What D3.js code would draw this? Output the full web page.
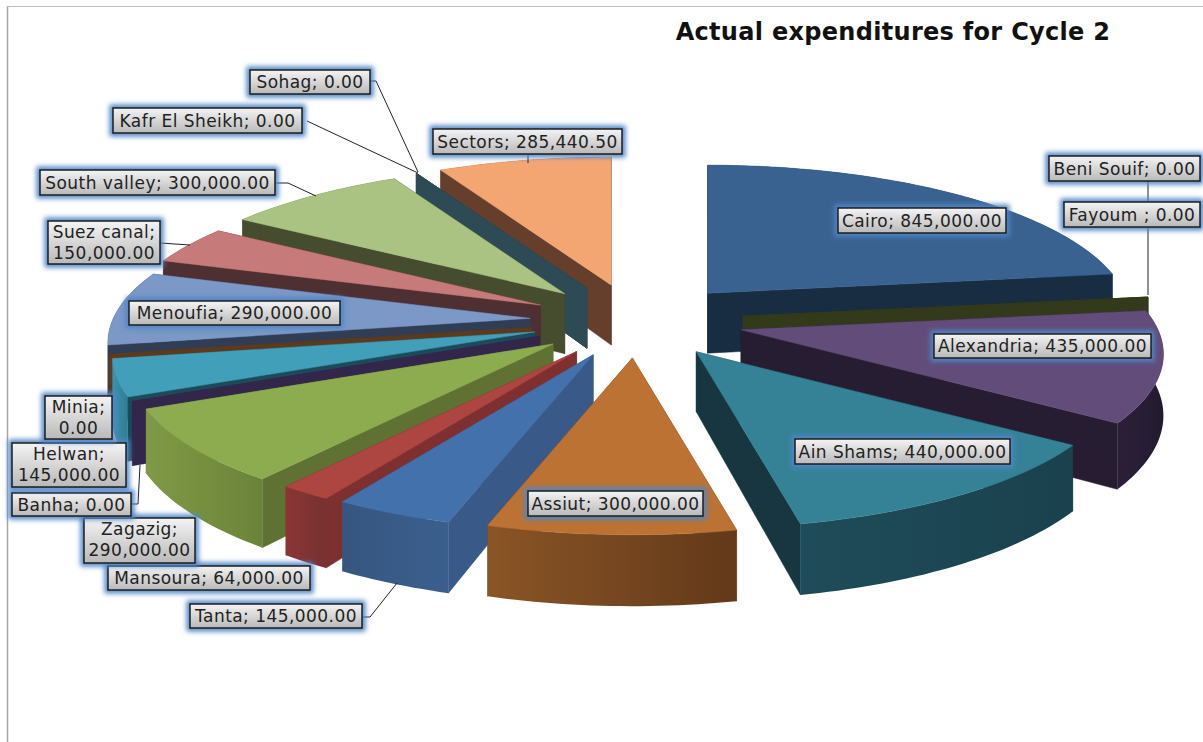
<!DOCTYPE html>
<html><head><meta charset="utf-8">
<script src="https://cdn.jsdelivr.net/npm/d3@7/dist/d3.min.js"></script>
<style>html,body{margin:0;padding:0;background:#fff}svg{display:block}text{white-space:pre}</style>
</head><body><svg id="c" width="1203" height="742"></svg>
<script>
const categories = ["Cairo","Beni Souif","Fayoum ","Alexandria","Ain Shams","Assiut","Tanta","Mansoura","Zagazig","Banha","Helwan","Minia","Menoufia","Suez canal","South valley","Kafr El Sheikh","Sohag","Sectors"];
const values = [845000,0,0,435000,440000,300000,145000,64000,290000,0,145000,0,290000,150000,300000,0,0,285440.5];

const topColors  = ["#3a6291","#4a5a28","#4a5a28","#624c7a","#358296","#bc7232","#4371ac","#ad4541","#8dac50","#32264a","#429fba","#5e3a1c","#7b98c6","#c67a79","#aac382","#2e4a54","#2e4a54","#f4a672"];
const faceColors = ["#182c42","#323a1b","#323a1b","#271d33","#17363f","#6e4220","#395a88","#7e3030","#5f7233","#32264a","#1d4a58","#5e3a1c","#303d54","#4f3032","#464d2f","#2e4a54","#2e4a54","#653f2c"];
const wallLeft   = ["#182c42","#323a1b","#323a1b","#2b2038","#1f4c5a","#8a5526","#36567f","#8a3634","#7f9a45","#32264a","#3c93ad","#5e3a1c","#303d54","#4f3032","#464d2f","#2e4a54","#2e4a54","#653f2c"];
const wallRight  = ["#182c42","#323a1b","#323a1b","#241a30","#1a414d","#63391a","#3b5f8e","#783030","#6b8339","#32264a","#2f7d95","#5e3a1c","#303d54","#4f3032","#464d2f","#2e4a54","#2e4a54","#653f2c"];

// label boxes [x, y, w, h, twoLines]
const labelBoxes = [[838,208,168,25,0],[1049,156,151,25,0],[1064,202,136,25,0],[934,334,217,24,0],[795,439,215,25,0],[528,491,175,25,0],[190,604,172,24,0],[108,566,202,24,0],[84,518,111,45,1],[12,493,119,23,0],[12,443,114,44,1],[45,396,67,43,1],[129,301,211,24,0],[48,221,112,43,1],[40,170,235,25,0],[113,108,189,25,0],[250,70,120,24,0],[433,129,189,25,0]];
const leaders = [
 [[1148,181],[1148,295]],
 [[370,81],[376,81],[418,172]],
 [[307,121],[418,173]],
 [[528,154],[528,163]],
 [[275,183],[288,183],[316,196]],
 [[160,243],[190,245]],
 [[362,617],[370,617],[397,583]],
 [[131,504],[138,504],[140,465]]
];

const W=1203,H=742;
const svg=d3.select("#c");
const defs=svg.append("defs");
defs.append("filter").attr("id","glow").attr("x","-20%").attr("y","-50%").attr("width","140%").attr("height","200%")
  .append("feGaussianBlur").attr("stdDeviation",2.4);
const lg=defs.append("linearGradient").attr("id","box").attr("x1",0).attr("y1",0).attr("x2",0).attr("y2",1);
lg.append("stop").attr("offset",0).attr("stop-color","#f4f4f4");
lg.append("stop").attr("offset",1).attr("stop-color","#b9b9b9");

// frame
svg.append("line").attr("x1",7.5).attr("x2",7.5).attr("y1",6).attr("y2",H).attr("stroke","#a6a6a6").attr("stroke-width",1.5);
svg.append("line").attr("x1",7).attr("x2",W).attr("y1",6.5).attr("y2",6.5).attr("stroke","#bdbdbd");

// title
svg.append("text").attr("x",893).attr("y",40).attr("text-anchor","middle")
  .attr("font-family","DejaVu Sans").attr("font-weight","bold").attr("font-size",24).attr("letter-spacing",0.3).attr("fill","#111")
  .text("Actual expenditures for Cycle 2");

// pie + perspective projection
const pie=d3.pie().sort(null).value(d=>d.value).startAngle(0).endAngle(2*Math.PI);
const data=categories.map((c,i)=>({name:c,value:values[i],i}));
const arcs=pie(data);
const cx=637, cy=321, explodeX=d3.scaleLinear().domain([-1,1]).range([cx-107,cx+107]), explodeY=d3.scaleLinear().domain([-1,1]).range([cy-37,cy+37]);
const sxScale=d3.scaleLinear().domain([-1,1]).range([-417,417]);
const syScale=d3.scaleLinear().domain([-1,1]).range([-148.5,148.5]);
const persp=0.16, depth=60;
function apexOf(a){const m=(a.startAngle+a.endAngle)/2;return [explodeX(Math.sin(m)),explodeY(-Math.cos(m))];}
function outer(a,th){
  const ap=apexOf(a),wx=Math.sin(th),wz=-Math.cos(th),p=1/(1-persp*wz);
  return {x:ap[0]+sxScale(wx)*p,y:ap[1]+syScale(wz)*p,d:depth*p};
}
const line=d3.line().x(d=>d[0]).y(d=>d[1]);
function poly(p){return line(p)+"Z";}
function arcPts(a){const n=Math.max(2,Math.ceil((a.endAngle-a.startAngle)/0.02));
  return d3.range(n+1).map(k=>outer(a,a.startAngle+(a.endAngle-a.startAngle)*k/n));}
function face(a,th){const ap=apexOf(a),o=outer(a,th);
  return poly([[ap[0],ap[1]],[o.x,o.y],[o.x,o.y+o.d],[ap[0],ap[1]+depth]]);}

const order=arcs.slice().sort((a,b)=>(-Math.cos((a.startAngle+a.endAngle)/2))-(-Math.cos((b.startAngle+b.endAngle)/2)));
arcs.forEach(a=>{
  const g=defs.append("linearGradient").attr("id","w"+a.data.i);
  g.append("stop").attr("offset",0).attr("stop-color",wallLeft[a.data.i]);
  g.append("stop").attr("offset",1).attr("stop-color",wallRight[a.data.i]);
});
const sl=svg.append("g").selectAll("g").data(order).join("g");
sl.append("path").attr("d",a=>face(a,a.startAngle)).attr("fill",a=>faceColors[a.data.i]).attr("stroke",a=>faceColors[a.data.i]).attr("stroke-width",.5);
sl.append("path").attr("d",a=>face(a,a.endAngle)).attr("fill",a=>faceColors[a.data.i]).attr("stroke",a=>faceColors[a.data.i]).attr("stroke-width",.5);
sl.filter(a=>a.value>0).append("path").attr("d",a=>{
  const pts=arcPts(a);
  return poly(pts.map(o=>[o.x,o.y]).concat(pts.slice().reverse().map(o=>[o.x,o.y+o.d])));
}).attr("fill",a=>`url(#w${a.data.i})`);
sl.filter(a=>a.value>0).append("path").attr("d",a=>{
  const ap=apexOf(a);
  return poly([ap].concat(arcPts(a).map(o=>[o.x,o.y])));
}).attr("fill",a=>topColors[a.data.i]).attr("stroke",a=>topColors[a.data.i]).attr("stroke-width",.5);

// leaders
svg.append("g").selectAll("path").data(leaders).join("path")
  .attr("d",d=>line(d)).attr("fill","none").attr("stroke","#222").attr("stroke-width",1);

// labels
const fmt=d3.format(",.2f");
const lab=svg.append("g").selectAll("g").data(data).join("g");
lab.append("rect").attr("x",d=>labelBoxes[d.i][0]).attr("y",d=>labelBoxes[d.i][1]).attr("width",d=>labelBoxes[d.i][2]).attr("height",d=>labelBoxes[d.i][3])
  .attr("fill","none").attr("stroke","#4f86c6").attr("stroke-width",7).attr("filter","url(#glow)");
lab.append("rect").attr("x",d=>labelBoxes[d.i][0]).attr("y",d=>labelBoxes[d.i][1]).attr("width",d=>labelBoxes[d.i][2]).attr("height",d=>labelBoxes[d.i][3])
  .attr("fill","url(#box)").attr("stroke","#1c1c1c").attr("stroke-width",1.5);
lab.each(function(d){
  const b=labelBoxes[d.i],g=d3.select(this),mid=b[0]+b[2]/2;
  const t=g.append("text").attr("text-anchor","middle").attr("font-family","DejaVu Sans").attr("font-size",17).attr("letter-spacing",0.45).attr("fill","#222");
  if(b[4]){
    t.append("tspan").attr("x",mid).attr("y",b[1]+17).text(d.name+";");
    t.append("tspan").attr("x",mid).attr("y",b[1]+38).text(fmt(d.value));
  } else {
    t.attr("x",mid).attr("y",b[1]+b[3]/2+6).text(d.name+"; "+fmt(d.value));
  }
});
</script></body></html>
